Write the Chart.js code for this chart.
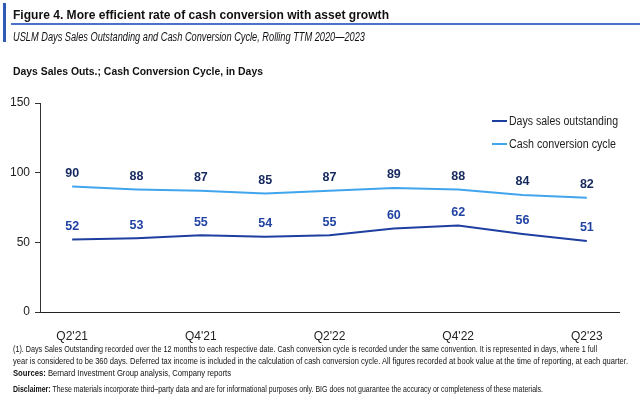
<!DOCTYPE html>
<html><head><meta charset="utf-8">
<script src="https://cdn.jsdelivr.net/npm/chart.js@4/dist/chart.umd.min.js"></script>
<style>
html,body{margin:0;padding:0;background:#fff;width:640px;height:402px;overflow:hidden;font-family:"Liberation Sans",Arial,sans-serif;}
#wrap{position:relative;width:640px;height:402px;}
canvas{position:absolute;left:0;top:0;}
.t{position:absolute;white-space:nowrap;transform-origin:0 50%;color:#111;line-height:1;}
#bar{position:absolute;left:3px;top:3px;width:3px;height:39px;background:#2f5bb7;}
#rule{position:absolute;left:11px;top:23px;width:629px;height:2px;background:#4a72c6;}
.lg{position:absolute;height:2px;width:15px;}
.fn{font-size:9px;}
</style></head>
<body><div id="wrap">
<canvas id="c" width="640" height="402"></canvas>
<div id="bar"></div>
<div id="rule"></div>
<div class="t" data-w="376" style="left:13px;top:8px;font-size:13.5px;font-weight:bold;">Figure 4. More efficient rate of cash conversion with asset growth</div>
<div class="t" data-w="352" style="left:13px;top:31px;font-size:12px;font-style:italic;">USLM Days Sales Outstanding and Cash Conversion Cycle, Rolling TTM 2020—2023</div>
<div class="t" data-w="250" style="left:13px;top:66px;font-size:11.5px;font-weight:bold;">Days Sales Outs.; Cash Conversion Cycle, in Days</div>
<div class="lg" style="left:492px;top:120px;background:#1f3fa0;"></div>
<div class="t" data-w="109" style="left:509px;top:115px;font-size:12px;color:#222;">Days sales outstanding</div>
<div class="lg" style="left:492px;top:143px;background:#41a5ee;"></div>
<div class="t" data-w="107" style="left:509px;top:138px;font-size:12px;color:#222;">Cash conversion cycle</div>
<div class="t fn" data-w="584" style="left:13px;top:345px;">(1). Days Sales Outstanding recorded over the 12 months to each respective date. Cash conversion cycle is recorded under the same convention. It is represented in days, where 1 full</div>
<div class="t fn" data-w="615" style="left:13px;top:357px;">year is considered to be 360 days. Deferred tax income is included in the calculation of cash conversion cycle. All figures recorded at book value at the time of reporting, at each quarter.</div>
<div class="t fn" data-w="218" style="left:13px;top:369px;"><b>Sources:</b> Bernard Investment Group analysis, Company reports</div>
<div class="t fn" data-w="530" style="left:13px;top:385px;"><b>Disclaimer:</b> These materials incorporate third–party data and are for informational purposes only. BIG does not guarantee the accuracy or completeness of these materials.</div>
</div>
<script>
const categories = ["Q2'21","Q3'21","Q4'21","Q1'22","Q2'22","Q3'22","Q4'22","Q1'23","Q2'23"];
const daysSalesOutstanding = [52, 53, 55, 54, 55, 60, 62, 56, 51];
const cashConversionCycle = [90, 88, 87, 85, 87, 89, 88, 84, 82];
const yTicks = [0, 50, 100, 150];

document.querySelectorAll('.t[data-w]').forEach(el=>{
  const w = el.getBoundingClientRect().width;
  const target = parseFloat(el.dataset.w);
  el.style.transform = 'scaleX(' + (target / w) + ')';
});

const labelPlugin = {
  id: 'vlabels',
  afterDatasetsDraw(chart){
    const ctx = chart.ctx;
    ctx.save();
    ctx.font = 'bold 12.5px "Liberation Sans", Arial, sans-serif';
    ctx.textAlign = 'center';
    ctx.textBaseline = 'middle';
    chart.data.datasets.forEach((ds, di)=>{
      const meta = chart.getDatasetMeta(di);
      ctx.fillStyle = ds.labelColor;
      meta.data.forEach((pt, i)=>{
        ctx.fillText(String(ds.data[i]), pt.x, pt.y - 13);
      });
    });
    ctx.restore();
  }
};

new Chart(document.getElementById('c'), {
  type: 'line',
  data: {
    labels: categories,
    datasets: [
      {label: 'Days sales outstanding', data: daysSalesOutstanding, borderColor: '#1f3fa0', labelColor: '#2143a3', borderWidth: 2, pointRadius: 0, tension: 0},
      {label: 'Cash conversion cycle', data: cashConversionCycle, borderColor: '#41a5ee', labelColor: '#16295f', borderWidth: 2, pointRadius: 0, tension: 0}
    ]
  },
  options: {
    responsive: false,
    animation: false,
    layout: {padding: {left: 0, right: 21, top: 103, bottom: 0}},
    plugins: {legend: {display: false}, tooltip: {enabled: false}},
    scales: {
      x: {
        offset: true,
        grid: {display: false},
        border: {display: true, color: '#222', width: 1},
        afterFit(s){ s.height = 90; },
        ticks: {
          autoSkip: false, maxRotation: 0, padding: 9, color: '#222',
          font: {family: '"Liberation Sans", Arial, sans-serif', size: 12},
          callback(v, i){ return i % 2 === 0 ? categories[i] : ''; }
        }
      },
      y: {
        min: 0, max: 150,
        afterFit(s){ s.width = 40; },
        afterBuildTicks(s){ s.ticks = yTicks.map(v=>({value: v})); },
        grid: {display: true, drawOnChartArea: false, drawTicks: true, tickLength: 5, color: '#333'},
        border: {display: true, color: '#333', width: 1},
        ticks: {padding: 5, color: '#222', font: {family: '"Liberation Sans", Arial, sans-serif', size: 12}}
      }
    }
  },
  plugins: [labelPlugin]
});
</script>
</body></html>
